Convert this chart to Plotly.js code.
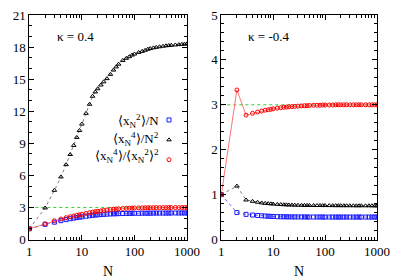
<!DOCTYPE html>
<html><head><meta charset="utf-8">
<script src="https://cdn.plot.ly/plotly-3.0.1.min.js"></script>
<style>html,body{margin:0;padding:0;background:#fff}#chart{width:399px;height:279px}</style>
</head><body><div id="chart"></div>
<script>
var N = [1,2,3,4,5,6,7,8,9,10,12,14,16,18,20,23,26,30,35,40,45,50,60,70,80,90,100,120,140,160,180,200,230,260,300,350,400,450,500,600,700,800,900,1000];

// kappa = 0.4
var m2_pos = [1,1.42,1.62,1.76,1.86,1.94,2.0,2.05,2.09,2.12, 2.18,2.22,2.26,2.29,2.31, 2.33,2.35,2.37,2.39,2.4, 2.41,2.42,2.43,2.44,2.44, 2.45,2.45,2.45,2.46,2.46, 2.46,2.46,2.47,2.47,2.47, 2.47,2.47,2.47,2.48,2.48, 2.48,2.48,2.48,2.48];
var m4_pos = [1,2.95,4.6,5.85,7.0,7.95,8.8,9.55,10.2,10.8, 11.8,12.65,13.4,13.8,14.1, 14.45,14.75,15.05,15.45,15.85, 16.15,16.4,16.75,16.95,17.1, 17.25,17.35,17.5,17.6,17.7, 17.8,17.86,17.93,17.98,18.03, 18.08,18.12,18.15,18.17,18.2, 18.23,18.26,18.28,18.3];
var ratio_pos = [1,1.46,1.75,1.92,2.04,2.13,2.2,2.26,2.31,2.36, 2.44,2.51,2.56,2.6,2.64, 2.68,2.72,2.76,2.8,2.83, 2.85,2.87,2.9,2.92,2.93, 2.94,2.95,2.96,2.96,2.97, 2.97,2.97,2.98,2.98,2.98, 2.98,2.98,2.99,2.99,2.99, 2.99,2.99,2.99,2.99];

// kappa = -0.4
var m2_neg = [1,0.6,0.56,0.545,0.535,0.528,0.522,0.518,0.515,0.512, 0.509,0.507,0.506,0.505,0.504, 0.503,0.503,0.502,0.502,0.502, 0.501,0.501,0.501,0.501,0.501, 0.5,0.5,0.5,0.5,0.5, 0.5,0.5,0.5,0.5,0.5, 0.5,0.5,0.5,0.5,0.5, 0.5,0.5,0.5,0.5];
var m4_neg = [1,1.19,0.88,0.85,0.83,0.815,0.805,0.8,0.795,0.79, 0.783,0.778,0.775,0.772,0.77, 0.768,0.766,0.764,0.762,0.761, 0.76,0.759,0.758,0.757,0.757, 0.756,0.756,0.755,0.755,0.754, 0.754,0.754,0.753,0.753,0.753, 0.752,0.752,0.752,0.752,0.751, 0.751,0.751,0.75,0.75];
var ratio_neg = [1,3.33,2.77,2.81,2.84,2.86,2.88,2.89,2.9,2.91, 2.925,2.935,2.945,2.95,2.955, 2.96,2.965,2.97,2.975,2.98, 2.98,2.985,2.99,2.99,2.99, 2.995,2.995,2.995,2.995,3.0, 3.0,3.0,3.0,3.0,3.0, 3.0,3.0,3.0,3.0,3.0, 3.0,3.0,3.0,3.0];

var seriesNames = ['⟨x<sub>N</sub><sup>2</sup>⟩/N', '⟨x<sub>N</sub><sup>4</sup>⟩/N<sup>2</sup>', '⟨x<sub>N</sub><sup>4</sup>⟩/⟨x<sub>N</sub><sup>2</sup>⟩<sup>2</sup>'];
var panelLabels = ['κ = 0.4', 'κ = -0.4'];
var xTickVals = [1,10,100,1000];
var xTickText = ['1','10','100','1000'];
var gaussRef = 3;

var FONT = 'Liberation Serif';

var STY = {
  m2: {sym:'square-open', mc:'#1a1aff', lc:'rgba(70,70,255,0.85)', dash:'dot'},
  m4: {sym:'triangle-up-open', mc:'#000000', lc:'rgba(100,100,100,0.85)', dash:'dot'},
  r:  {sym:'circle-open', mc:'#ff0000', lc:'rgba(255,90,90,0.85)', dash:'solid'}
};
function lineTrace(y, xa, ya, kind) {
  var st = STY[kind];
  return {x:N, y:y, xaxis:xa, yaxis:ya, type:'scatter', mode:'lines', showlegend:false,
    line:{color:st.lc, width:1, dash:st.dash}, hoverinfo:'skip'};
}
function markTrace(y, xa, ya, kind, show) {
  var st = STY[kind];
  return {x:N, y:y, xaxis:xa, yaxis:ya, type:'scatter', mode:'markers', name:' ', showlegend:show,
    marker:{symbol:st.sym, size:4, color:st.mc, line:{width:1, color:st.mc}}};
}

var traces = [
  lineTrace(m2_pos,'x','y','m2'), lineTrace(m4_pos,'x','y','m4'), lineTrace(ratio_pos,'x','y','r'),
  lineTrace(m2_neg,'x2','y2','m2'), lineTrace(m4_neg,'x2','y2','m4'), lineTrace(ratio_neg,'x2','y2','r'),
  markTrace(m2_pos,'x','y','m2',true), markTrace(m4_pos,'x','y','m4',true), markTrace(ratio_pos,'x','y','r',true),
  markTrace(m2_neg,'x2','y2','m2',false), markTrace(m4_neg,'x2','y2','m4',false), markTrace(ratio_neg,'x2','y2','r',false)
];

function xax(dom, anchor) {
  return {domain:dom, anchor:anchor, type:'log', range:[0,3], tickvals:xTickVals, ticktext:xTickText,
    ticks:'inside', ticklen:5, tickcolor:'#000', showline:true, linecolor:'#000', linewidth:1, mirror:'allticks',
    showgrid:false, zeroline:false, tickfont:{family:FONT,size:13,color:'#000'},
    minor:{ticks:'inside', ticklen:3, tickcolor:'#000', tickvals:[2,3,4,5,6,7,8,9,20,30,40,50,60,70,80,90,200,300,400,500,600,700,800,900], showgrid:false},
    title:{text:'N', font:{family:FONT,size:14,color:'#000'}, standoff:8}};
}
function yax(dom, anchor, rng, dt, mdt) {
  return {domain:dom, anchor:anchor, range:rng, dtick:dt, tick0:0,
    ticks:'inside', ticklen:5, tickcolor:'#000', showline:true, linecolor:'#000', linewidth:1, mirror:'allticks',
    showgrid:false, zeroline:false, tickfont:{family:FONT,size:13,color:'#000'},
    minor:{ticks:'inside', ticklen:3, tickcolor:'#000', dtick:mdt, showgrid:false}};
}

var ydom = [1-239.5/279, 1-15/279];
var layout = {
  width:399, height:279, margin:{l:0,r:0,t:0,b:0},
  paper_bgcolor:'#fff', plot_bgcolor:'#fff',
  font:{family:FONT, size:13, color:'#000'},
  xaxis: xax([29.3/399, 187/399], 'y'),
  yaxis: yax(ydom, 'x', [0,21], 3, 1),
  xaxis2: xax([221.3/399, 377/399], 'y2'),
  yaxis2: yax(ydom, 'x2', [0,5], 1, 0.2),
  showlegend:true,
  legend:{x:149/399, y:1-105/279, xanchor:'left', yanchor:'top', bgcolor:'rgba(0,0,0,0)',
    font:{family:FONT,size:13}, itemwidth:30, tracegroupgap:0},
  shapes:[
    {type:'line', xref:'x domain', yref:'y', x0:0, x1:1, y0:gaussRef, y1:gaussRef, line:{color:'#33cc33', width:1, dash:'dot'}, layer:'below'},
    {type:'line', xref:'x2 domain', yref:'y2', x0:0, x1:1, y0:gaussRef, y1:gaussRef, line:{color:'#33cc33', width:1, dash:'dot'}, layer:'below'}
  ],
  annotations:[
    {xref:'paper', yref:'paper', x:55/399, y:1-36/279, xanchor:'left', yanchor:'middle', text:panelLabels[0], showarrow:false, font:{family:FONT,size:13}},
    {xref:'paper', yref:'paper', x:246/399, y:1-36/279, xanchor:'left', yanchor:'middle', text:panelLabels[1], showarrow:false, font:{family:FONT,size:13}},
    {xref:'paper', yref:'paper', x:161/399, y:1-121/279, xanchor:'right', yanchor:'middle', text:seriesNames[0], showarrow:false, font:{family:FONT,size:13}},
    {xref:'paper', yref:'paper', x:161/399, y:1-139/279, xanchor:'right', yanchor:'middle', text:seriesNames[1], showarrow:false, font:{family:FONT,size:13}},
    {xref:'paper', yref:'paper', x:161/399, y:1-156/279, xanchor:'right', yanchor:'middle', text:seriesNames[2], showarrow:false, font:{family:FONT,size:13}}
  ]
};
Plotly.newPlot('chart', traces, layout, {staticPlot:true, displayModeBar:false});
</script></body></html>
